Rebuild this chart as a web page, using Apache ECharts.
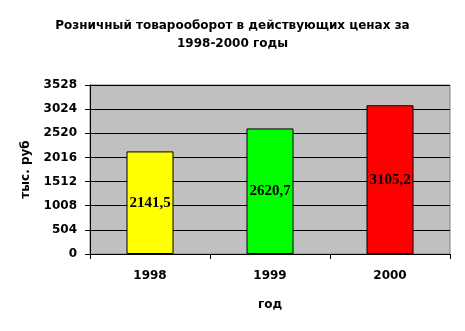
<!DOCTYPE html>
<html><head><meta charset="utf-8">
<script src="https://cdn.jsdelivr.net/npm/echarts@6/dist/echarts.min.js"></script>
<style>html,body{margin:0;padding:0;background:#fff}#c{width:465px;height:331px}</style>
</head><body><div id="c"></div>
<script>
const categories = ['1998', '1999', '2000'];
const values = [2141.5, 2620.7, 3105.2];
const barColors = ['#FFFF00', '#00FF00', '#FF0000'];
const yTicks = [0, 504, 1008, 1512, 2016, 2520, 3024, 3528];
const titleText = 'Розничный товарооборот в действующих ценах за\n1998-2000 годы';

const chart = echarts.init(document.getElementById('c'));
chart.setOption({
  animation: false,
  title: {
    text: titleText, left: 'center', top: 12,
    textStyle: { fontFamily: 'DejaVu Sans', fontWeight: 'bold', fontSize: 12, lineHeight: 18, color: '#000' }
  },
  grid: { left: 90, right: 15, top: 85, bottom: 77, show: true, backgroundColor: '#C0C0C0', borderColor: '#808080', borderWidth: 1 },
  xAxis: {
    type: 'category', data: categories,
    name: 'год', nameLocation: 'middle', nameGap: 45,
    nameTextStyle: { fontFamily: 'DejaVu Sans', fontWeight: 'bold', fontSize: 12, color: '#000' },
    axisLine: { lineStyle: { color: '#000' } },
    axisTick: { show: true, length: 5, lineStyle: { color: '#000' } },
    axisLabel: { fontFamily: 'DejaVu Sans', fontWeight: 'bold', fontSize: 12, color: '#000', margin: 16 }
  },
  yAxis: {
    type: 'value', min: 0, max: yTicks[yTicks.length - 1], interval: yTicks[1] - yTicks[0],
    name: 'тыс. руб', nameLocation: 'middle', nameGap: 58, nameRotate: 90,
    nameTextStyle: { fontFamily: 'DejaVu Sans', fontWeight: 'bold', fontSize: 12, color: '#000' },
    axisLine: { show: true, lineStyle: { color: '#000' } },
    axisTick: { show: true, length: 5, lineStyle: { color: '#000' } },
    axisLabel: { fontFamily: 'DejaVu Sans', fontWeight: 'bold', fontSize: 12, color: '#000', margin: 13, formatter: v => String(v) },
    splitLine: { lineStyle: { color: '#000', width: 1 } }
  },
  series: [{
    type: 'bar', barWidth: 47,
    data: values.map((v, i) => ({ value: v, itemStyle: { color: barColors[i] } })),
    itemStyle: { borderColor: '#000', borderWidth: 1 },
    label: {
      show: true, position: 'inside', color: '#000',
      fontFamily: 'Liberation Serif', fontWeight: 'bold', fontSize: 15,
      formatter: p => String(p.value).replace('.', ',')
    }
  }]
});
</script></body></html>
